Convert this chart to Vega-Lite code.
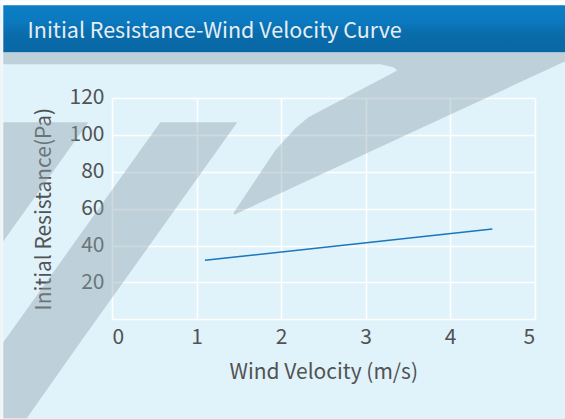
{
  "$schema": "https://vega.github.io/schema/vega-lite/v6.json",
  "background": "#e0f2fa",
  "padding": 0,
  "width": 422.6,
  "height": 221.3,
  "datasets": {
    "curve": [
      {"velocity": 1.1, "resistance": 32},
      {"velocity": 4.5, "resistance": 49}
    ],
    "heading": [
      {"title": "Initial Resistance-Wind Velocity Curve"}
    ],
    "watermark": [
      {"shape": "AB", "wy": 144.78, "wx": -1.286, "wx2": 5.363},
      {"shape": "AB", "wy": 139.90, "wx": -1.286, "wx2": 5.363},
      {"shape": "AB", "wy": 138.27, "wx": -1.286, "wx2": 5.286},
      {"shape": "AB", "wy": 138.26, "wx": 3.174, "wx2": 5.286},
      {"shape": "AB", "wy": 136.64, "wx": 3.328, "wx2": 5.211},
      {"shape": "AB", "wy": 135.02, "wx": 3.376, "wx2": 5.134},
      {"shape": "AB", "wy": 132.85, "wx": 3.293, "wx2": 5.031},
      {"shape": "AB", "wy": 109.53, "wx": 2.323, "wx2": 3.934},
      {"shape": "AB", "wy": 103.57, "wx": 2.169, "wx2": 3.652},
      {"shape": "AB", "wy": 91.64, "wx": 1.932, "wx2": 3.090},
      {"shape": "AB", "wy": 57.48, "wx": 1.435, "wx2": 1.483},
      {"shape": "AB", "wy": 56.66, "wx": 1.459, "wx2": 1.459},
      {"shape": "D", "wy": 106.82, "wx": -1.286, "wx2": -0.280},
      {"shape": "D", "wy": 42.29, "wx": -1.286, "wx2": -1.286},
      {"shape": "C", "wy": 106.82, "wx": 0.5715, "wx2": 1.4825},
      {"shape": "C", "wy": -12.47, "wx": -1.286, "wx2": -0.375},
      {"shape": "C", "wy": -53.68, "wx": -1.286, "wx2": -1.008}
    ]
  },
  "encoding": {
    "x": {"type": "quantitative", "scale": {"domain": [0, 5], "nice": false},
      "axis": {"title": "Wind Velocity (m/s)", "values": [0, 1, 2, 3, 4, 5], "labelPadding": 7, "titlePadding": 14}},
    "y": {"type": "quantitative", "scale": {"domain": [0, 120], "nice": false},
      "axis": {"title": "Initial Resistance(Pa)", "values": [0, 20, 40, 60, 80, 100, 120], "labelExpr": "datum.value === 0 ? '' : datum.label", "labelPadding": 8, "titlePadding": 15}}
  },
  "layer": [
    {
      "data": {"name": "heading"},
      "mark": {"type": "rect", "color": "#ffffff"},
      "encoding": {
        "x": {"datum": -1.3216},
        "x2": {"datum": 5.363},
        "y": {"datum": 172.97},
        "y2": {"datum": 170.26}
      }
    },
    {
      "data": {"name": "heading"},
      "mark": {"type": "rect", "color": "#f3f5f6"},
      "encoding": {
        "x": {"datum": -1.3216},
        "x2": {"datum": -1.286},
        "y": {"datum": 170.26},
        "y2": {"datum": -54.22}
      }
    },
    {
      "data": {"name": "heading"},
      "mark": {
        "type": "rect",
        "color": {
          "gradient": "linear", "x1": 0, "y1": 0, "x2": 0, "y2": 1,
          "stops": [
            {"offset": 0, "color": "#0c7ec4"},
            {"offset": 0.35, "color": "#0b79bf"},
            {"offset": 0.6, "color": "#0a6cab"},
            {"offset": 1, "color": "#0967a4"}
          ]
        }
      },
      "encoding": {
        "x": {"datum": -1.286},
        "x2": {"datum": 5.363},
        "y": {"datum": 170.26},
        "y2": {"datum": 144.78}
      }
    },
    {
      "data": {"name": "heading"},
      "mark": {"type": "text", "align": "left", "baseline": "alphabetic", "font": "Noto Sans CJK SC", "fontSize": 21.5, "color": "#e4eef6"},
      "encoding": {
        "x": {"datum": -1.0},
        "y": {"datum": 152.37},
        "text": {"field": "title"}
      }
    },
    {
      "data": {"name": "watermark"},
      "mark": {"type": "area", "orient": "horizontal", "color": "#8fa4ad", "opacity": 0.42},
      "encoding": {
        "y": {"field": "wy"},
        "x": {"field": "wx", "stack": null},
        "x2": {"field": "wx2"},
        "detail": {"field": "shape", "type": "nominal"}
      }
    },
    {
      "data": {"name": "curve"},
      "mark": {"type": "line", "color": "#1a76be", "strokeWidth": 1.5},
      "encoding": {
        "x": {"field": "velocity"},
        "y": {"field": "resistance"}
      }
    }
  ],
  "config": {
    "view": {"stroke": null},
    "font": "Noto Sans CJK SC",
    "axis": {
      "domain": false,
      "ticks": false,
      "grid": true,
      "gridColor": "#ffffff",
      "gridWidth": 1.6,
      "labelFont": "Noto Sans CJK SC",
      "labelFontSize": 21,
      "labelColor": "#525252",
      "titleFont": "Noto Sans CJK SC",
      "titleFontSize": 21,
      "titleFontWeight": "normal",
      "titleColor": "#525252"
    }
  }
}
